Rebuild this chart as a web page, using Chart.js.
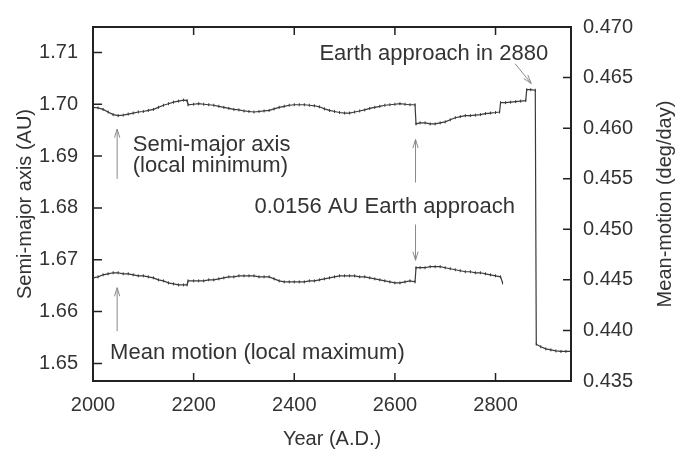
<!DOCTYPE html>
<html>
<head>
<meta charset="utf-8">
<script src="https://cdn.jsdelivr.net/npm/chart.js@4.4.1/dist/chart.umd.min.js"></script>
<style>
html, body { margin: 0; padding: 0; background: #fff; }
#wrap { width: 676px; height: 449px; }
</style>
</head>
<body>
<div id="wrap"><canvas id="orbit"></canvas></div>
<script>
// semi-major axis, upper trace (left axis, AU)
let axisYears = [2000,2010,2020,2030,2040,2050,2060,2070,2080,2090,2100,2110,2120,2130,2140,2150,2160,2170,2180,2187,2189,2200,2210,2220,2230,2240,2250,2260,2270,2280,2290,2300,2310,2320,2330,2340,2350,2360,2370,2380,2390,2400,2410,2420,2430,2440,2450,2460,2470,2480,2490,2500,2510,2520,2530,2540,2550,2560,2570,2580,2590,2600,2610,2620,2630,2640,2642,2650,2660,2670,2680,2690,2700,2710,2720,2730,2740,2750,2760,2770,2780,2790,2800,2808,2810,2820,2830,2840,2850,2860,2862,2870,2879,2881,2890,2900,2910,2920,2930,2940,2950];
let axisValues = [1.6994,1.6993,1.6990,1.6985,1.6980,1.6978,1.6979,1.6981,1.6983,1.6985,1.6986,1.6988,1.6990,1.6994,1.6998,1.7001,1.7004,1.7006,1.7008,1.7007,1.6999,1.7000,1.7001,1.7000,1.6999,1.6998,1.6996,1.6994,1.6992,1.6990,1.6989,1.6987,1.6986,1.6985,1.6986,1.6987,1.6988,1.6991,1.6994,1.6996,1.6998,1.6999,1.6999,1.6999,1.6998,1.6997,1.6995,1.6991,1.6988,1.6986,1.6984,1.6983,1.6983,1.6985,1.6987,1.6989,1.6992,1.6994,1.6996,1.6998,1.6999,1.7000,1.7001,1.7000,1.6999,1.6999,1.6962,1.6964,1.6964,1.6962,1.6962,1.6964,1.6966,1.6970,1.6974,1.6976,1.6978,1.6978,1.6979,1.6980,1.6982,1.6983,1.6984,1.6985,1.7003,1.7003,1.7004,1.7005,1.7006,1.7007,1.7028,1.7028,1.7027,1.6537,1.6532,1.6528,1.6526,1.6524,1.6523,1.6523,1.6523];

// mean motion, lower trace (right axis, deg/day)
let motionYears = [2000,2010,2020,2030,2040,2050,2060,2070,2080,2090,2100,2110,2120,2130,2140,2150,2160,2170,2180,2187,2189,2200,2210,2220,2230,2240,2250,2260,2270,2280,2290,2300,2310,2320,2330,2340,2350,2360,2370,2380,2390,2400,2410,2420,2430,2440,2450,2460,2470,2480,2490,2500,2510,2520,2530,2540,2550,2560,2570,2580,2590,2600,2610,2620,2630,2640,2642,2650,2660,2670,2680,2690,2700,2710,2720,2730,2740,2750,2760,2770,2780,2790,2800,2810,2814];
let motionValues = [0.4452,0.4453,0.4455,0.4456,0.4457,0.4457,0.4456,0.4456,0.4455,0.4454,0.4454,0.4453,0.4452,0.4450,0.4449,0.4447,0.4446,0.4445,0.4445,0.4445,0.4449,0.4449,0.4449,0.4449,0.4450,0.4450,0.4451,0.4452,0.4453,0.4453,0.4454,0.4454,0.4454,0.4454,0.4453,0.4453,0.4453,0.4451,0.4449,0.4448,0.4448,0.4448,0.4448,0.4448,0.4449,0.4449,0.4450,0.4451,0.4452,0.4453,0.4454,0.4454,0.4454,0.4454,0.4453,0.4453,0.4452,0.4451,0.4450,0.4449,0.4448,0.4447,0.4447,0.4448,0.4449,0.4448,0.4462,0.4462,0.4462,0.4463,0.4463,0.4463,0.4462,0.4461,0.4460,0.4459,0.4458,0.4458,0.4457,0.4457,0.4456,0.4455,0.4454,0.4453,0.4447];

let yearTicks = [2000, 2200, 2400, 2600, 2800];
let auTicks = [1.65, 1.66, 1.67, 1.68, 1.69, 1.70, 1.71];
let motionTicks = [0.435, 0.440, 0.445, 0.450, 0.455, 0.460, 0.465, 0.470];

// labels and arrows, in (year, AU) coordinates
let notes = [
    { text: "Earth approach in 2880", x: 2450, y: 1.7085 },
    { text: "Semi-major axis", x: 2079, y: 1.6909 },
    { text: "(local minimum)", x: 2079, y: 1.6870 },
    { text: "0.0156 AU Earth approach", x: 2321, y: 1.6791 },
    { text: "Mean motion (local maximum)", x: 2034, y: 1.6509 }
];
let arrows = [
    [2048, 1.6856, 2048, 1.6952],
    [2048, 1.6562, 2048, 1.6646],
    [2641, 1.6849, 2641, 1.6932],
    [2641, 1.6768, 2641, 1.6699],
    [2839, 1.7078, 2871, 1.7040]
];

Chart.defaults.font.family = "'Liberation Sans', Arial, sans-serif";
Chart.defaults.font.size = 20;
Chart.defaults.color = '#333';

function arrow(ctx, x0, y0, x1, y1) {
    const ang = Math.atan2(y1 - y0, x1 - x0);
    ctx.beginPath();
    ctx.moveTo(x0, y0);
    ctx.lineTo(x1, y1);
    ctx.moveTo(x1 - 9 * Math.cos(ang - 0.3), y1 - 9 * Math.sin(ang - 0.3));
    ctx.lineTo(x1, y1);
    ctx.lineTo(x1 - 9 * Math.cos(ang + 0.3), y1 - 9 * Math.sin(ang + 0.3));
    ctx.stroke();
}

const decor = {
    id: 'decor',
    afterDraw(chart) {
        const ctx = chart.ctx;
        const a = chart.chartArea;
        const sx = chart.scales.x, sy = chart.scales.y, sy1 = chart.scales.y1;
        ctx.save();

        // tick marks pointing into the box
        ctx.strokeStyle = '#222';
        ctx.lineWidth = 1.5;
        ctx.beginPath();
        yearTicks.forEach(v => {
            const px = sx.getPixelForValue(v);
            ctx.moveTo(px, a.bottom); ctx.lineTo(px, a.bottom - 8);
            ctx.moveTo(px, a.top); ctx.lineTo(px, a.top + 8);
        });
        auTicks.forEach(v => {
            const py = sy.getPixelForValue(v);
            ctx.moveTo(a.left, py); ctx.lineTo(a.left + 9, py);
        });
        motionTicks.forEach(v => {
            const py = sy1.getPixelForValue(v);
            ctx.moveTo(a.right, py); ctx.lineTo(a.right - 8, py);
        });
        ctx.stroke();
        ctx.lineWidth = 2;
        ctx.strokeRect(a.left, a.top, a.right - a.left, a.bottom - a.top);

        // arrows
        ctx.strokeStyle = '#8a8a8a';
        ctx.lineWidth = 1;
        arrows.forEach(r => {
            arrow(ctx, sx.getPixelForValue(r[0]), sy.getPixelForValue(r[1]),
                       sx.getPixelForValue(r[2]), sy.getPixelForValue(r[3]));
        });

        // notes
        ctx.fillStyle = '#333';
        ctx.font = "22px 'Liberation Sans', Arial, sans-serif";
        ctx.textAlign = 'left';
        ctx.textBaseline = 'alphabetic';
        notes.forEach(n => {
            ctx.fillText(n.text, sx.getPixelForValue(n.x), sy.getPixelForValue(n.y));
        });

        // axis titles
        ctx.font = "20px 'Liberation Sans', Arial, sans-serif";
        ctx.textAlign = 'center';
        const midY = (a.top + a.bottom) / 2;
        ctx.fillText("Year (A.D.)", (a.left + a.right) / 2, 445);
        ctx.save();
        ctx.translate(31, midY);
        ctx.rotate(-Math.PI / 2);
        ctx.fillText("Semi-major axis (AU)", 0, 0);
        ctx.restore();
        ctx.save();
        ctx.translate(671, midY);
        ctx.rotate(-Math.PI / 2);
        ctx.fillText("Mean-motion (deg/day)", 0, 0);
        ctx.restore();

        ctx.restore();
    }
};

new Chart(document.getElementById("orbit"), {
    type: 'line',
    data: {
        datasets: [
            {
                label: 'Semi-major axis',
                data: axisYears.map((yr, i) => ({ x: yr, y: axisValues[i] })),
                yAxisID: 'y',
                borderColor: '#3a3a3a',
                borderWidth: 1.2,
                pointStyle: 'line',
                rotation: 90,
                pointRadius: 1.5,
                pointBorderColor: '#3a3a3a',
                pointBorderWidth: 1
            },
            {
                label: 'Mean motion',
                data: motionYears.map((yr, i) => ({ x: yr, y: motionValues[i] })),
                yAxisID: 'y1',
                borderColor: '#3a3a3a',
                borderWidth: 1.2,
                pointStyle: 'line',
                rotation: 90,
                pointRadius: 1.5,
                pointBorderColor: '#3a3a3a',
                pointBorderWidth: 1
            }
        ]
    },
    options: {
        responsive: true,
        maintainAspectRatio: false,
        animation: false,
        layout: { padding: { top: 17, left: 0, right: 0, bottom: 0 } },
        plugins: { legend: { display: false }, tooltip: { enabled: false } },
        scales: {
            x: {
                type: 'linear',
                min: 2000,
                max: 2950,
                grid: { display: false, drawTicks: false },
                border: { display: false },
                afterBuildTicks: s => { s.ticks = yearTicks.map(v => ({ value: v })); },
                afterFit: s => { s.height = 68; },
                ticks: { padding: 12, maxRotation: 0, callback: v => String(v) }
            },
            y: {
                position: 'left',
                min: 1.6466,
                max: 1.7149,
                grid: { display: false, drawTicks: false },
                border: { display: false },
                afterBuildTicks: s => { s.ticks = auTicks.map(v => ({ value: v })); },
                afterFit: s => { s.width = 93; },
                ticks: { padding: 15, callback: v => v.toFixed(2) }
            },
            y1: {
                position: 'right',
                min: 0.435,
                max: 0.470,
                grid: { display: false, drawTicks: false },
                border: { display: false },
                afterBuildTicks: s => { s.ticks = motionTicks.map(v => ({ value: v })); },
                afterFit: s => { s.width = 105; },
                ticks: { padding: 12, callback: v => v.toFixed(3) }
            }
        }
    },
    plugins: [decor]
});
</script>
</body>
</html>
